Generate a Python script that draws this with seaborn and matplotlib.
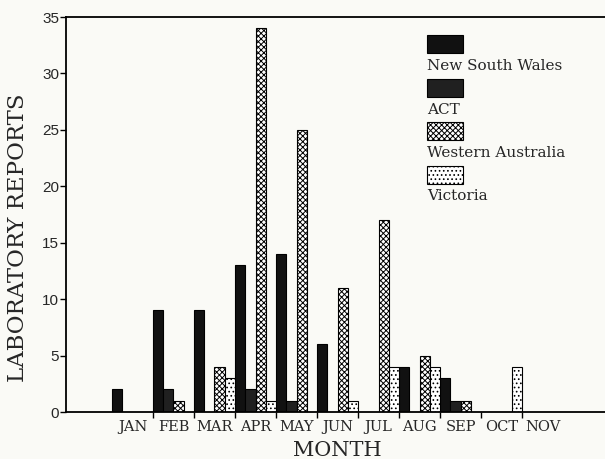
import pandas as pd
import seaborn as sns
import matplotlib.pyplot as plt
from matplotlib.patches import Rectangle

# data
months = ["JAN", "FEB", "MAR", "APR", "MAY", "JUN", "JUL", "AUG", "SEP", "OCT", "NOV"]
nsw = [2, 9, 9, 13, 14, 6, 0, 4, 3, 0, 0]
act = [0, 2, 0, 2, 1, 0, 0, 0, 1, 0, 0]
wa = [0, 1, 4, 34, 25, 11, 17, 5, 1, 0, 0]
vic = [0, 0, 3, 1, 0, 1, 4, 4, 0, 4, 0]
states = ["New South Wales", "ACT", "Western Australia", "Victoria"]

faces = {"New South Wales": "#111111", "ACT": "#202020",
         "Western Australia": "white", "Victoria": "white"}
hatches = {"New South Wales": "", "ACT": "", "Western Australia": "xxxxxx", "Victoria": "...."}

df = pd.DataFrame({"month": months * 4,
                   "state": [s for s in states for _ in months],
                   "reports": nsw + act + wa + vic})

sns.set_style("ticks")
plt.rcParams["font.family"] = ["DejaVu Serif"]
plt.rcParams["hatch.linewidth"] = 0.7
bg = "#fafaf6"
W, H = 605, 459

fig = plt.figure(figsize=(6.05, 4.59), dpi=100, facecolor=bg)
ax = fig.add_axes([66 / W, 1 - 412 / H, 1 - 66 / W, (412 - 17) / H])
ax.set_facecolor(bg)

sns.barplot(data=df, x="month", y="reports", hue="state", hue_order=states,
            order=months, palette=faces, width=1.0, edgecolor="black",
            linewidth=0.8, legend=False, ax=ax)

for cont, s in zip(ax.containers, states):
    for bar in cont:
        bar.set_hatch(hatches[s])
        if bar.get_height() == 0:
            bar.set_visible(False)

ax.set_xlim(-1.62, 11.52)
ax.set_ylim(0, 35)
ax.set_yticks(range(0, 36, 5))
ax.set_yticklabels([str(v) for v in range(0, 36, 5)], family="Liberation Sans", fontsize=11)

# ticks sit between months, names in the middle of each slot
ax.set_xticks([i + 0.5 for i in range(10)])
ax.set_xticklabels([])
ax.set_xticks(range(len(months)), minor=True)
ax.set_xticklabels(months, minor=True, fontsize=10.5)
ax.tick_params(axis="x", which="minor", length=0, pad=6)
ax.tick_params(axis="x", which="major", length=4, width=1, color="black", direction="out")
ax.tick_params(axis="y", length=4, width=1, color="black", pad=1)

for side in ["left", "bottom", "top"]:
    ax.spines[side].set_color("black")
    ax.spines[side].set_linewidth(1.3)
ax.spines["right"].set_visible(False)

ax.set_xlabel("")
ax.set_ylabel("")
fig.text(337 / W, 1 - 450 / H, "MONTH", ha="center", va="center", fontsize=15)
fig.text(18 / W, 1 - 238 / H, "LABORATORY REPORTS", ha="center", va="center",
         rotation=90, fontsize=16.5)

# legend: swatch above each label
for i, s in enumerate(states):
    top = 35 + 43.5 * i
    fig.patches.append(Rectangle((427 / W, 1 - (top + 18) / H), 36 / W, 18 / H,
                                 transform=fig.transFigure, facecolor=faces[s],
                                 edgecolor="black", linewidth=0.8, hatch=hatches[s]))
    fig.text(427 / W, 1 - (top + 24) / H, s, va="top", ha="left", fontsize=11)

fig.savefig("out.png", dpi=100, facecolor=bg)
